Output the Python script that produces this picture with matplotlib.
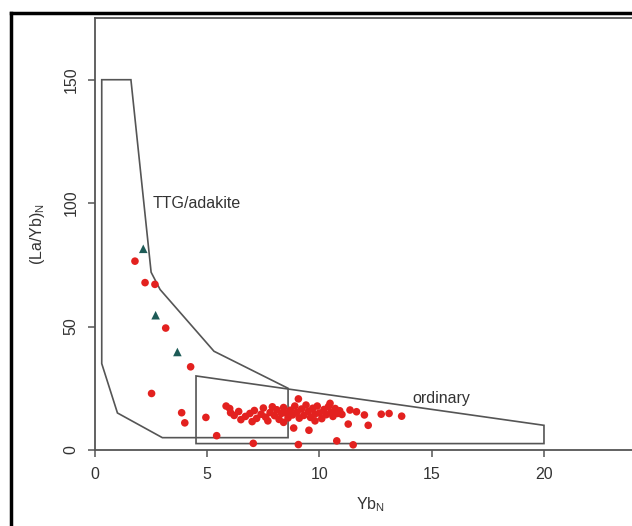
import matplotlib
matplotlib.use("Agg")
import matplotlib.pyplot as plt
from matplotlib.lines import Line2D
from matplotlib.patches import Polygon

plt.rcParams["font.family"] = ["Liberation Sans", "DejaVu Sans"]

_RED = "#e3211f"
_TEAL = "#1d5b57"
_EDGE = "#555555"
_TEXT = "#333333"

# field boundaries (YbN, (La/Yb)N)
ttg_x = [0.3, 1.6, 2.5, 2.9, 5.3, 8.6, 8.6, 3.0, 1.0, 0.3]
ttg_y = [150, 150, 72, 65, 40, 25, 5, 5, 15, 35]
ordinary_x = [4.5, 20.0, 20.0, 4.5]
ordinary_y = [30, 10, 2.6, 2.6]

# samples
red_x = [1.78, 2.23, 2.67, 3.15, 4.26, 2.52, 3.86, 4.0, 4.94, 5.42,
         7.05, 9.06, 10.77, 11.5, 8.85, 9.53, 11.28, 12.17, 9.06, 10.47,
         11.36, 11.65, 12.0, 12.75, 13.1, 13.66, 5.84, 6.04,
         6.4, 6.5, 6.7, 6.9, 7.1, 7.2, 7.4, 7.5, 7.6, 7.7,
         7.8, 7.9, 8.0, 8.1, 8.2, 8.3, 8.4, 8.5, 8.6, 8.7,
         8.8, 8.9, 9.0, 9.1, 9.2, 9.3, 9.4, 9.5, 9.6, 9.7,
         9.8, 9.9, 10.0, 10.1, 10.2, 10.3, 10.4, 10.5, 10.6, 10.7,
         10.8, 10.9, 11.0, 7.0, 8.4, 9.8, 6.2, 6.0]
red_y = [76.5, 67.8, 67.1, 49.4, 33.7, 22.9, 15.1, 11.0, 13.2, 5.8,
         2.7, 2.2, 3.7, 2.1, 8.9, 8.0, 10.5, 10.0, 20.7, 18.9,
         16.2, 15.5, 14.2, 14.5, 14.8, 13.7, 17.8, 15.1,
         15.6, 12.3, 13.6, 14.8, 16.0, 12.8, 14.5, 17.0, 13.3, 11.8,
         15.2, 17.5, 13.9, 16.3, 12.4, 14.8, 17.2, 15.0, 13.0, 16.1,
         14.2, 17.8, 15.3, 12.9, 16.6, 14.0, 18.2, 15.6, 13.2, 16.9,
         14.6, 17.8, 15.0, 12.7, 16.4, 14.3, 17.6, 15.2, 13.6, 16.8,
         14.8, 15.9, 14.4, 11.5, 11.2, 11.8, 14.0, 16.8]
tri_x = [2.15, 2.70, 3.67]
tri_y = [81.5, 54.6, 39.7]

x_ticks = [0, 5, 10, 15, 20]
y_ticks = [0, 50, 100, 150]

W, H = 632, 526
fig = plt.figure(figsize=(W / 100, H / 100), dpi=100)

# outer frame, only the left and top edges fall inside the canvas
fig.add_artist(Line2D([11 / W, 11 / W], [0, 1 - 13 / H], color="black", lw=2.5))
fig.add_artist(Line2D([11 / W, 1], [1 - 13 / H, 1 - 13 / H], color="black", lw=2.5))

ax = fig.add_axes([95 / W, 1 - 450 / H, 550 / W, 432 / H])
ax.set_xlim(0, 24.5)
ax.set_ylim(0, 175)

for xs, ys in [(ttg_x, ttg_y), (ordinary_x, ordinary_y)]:
    ax.add_patch(Polygon(list(zip(xs, ys)), closed=True, fill=False,
                         edgecolor=_EDGE, lw=1.2))

ax.scatter(red_x, red_y, s=30, c=_RED, edgecolors="none", zorder=3)
ax.scatter(tri_x, tri_y, s=38, marker="^", c=_TEAL, edgecolors="none", zorder=3)

ax.text(2.55, 100, "TTG/adakite", fontsize=11.5, color=_TEXT, va="center")
ax.text(14.15, 21, "ordinary", fontsize=11.5, color=_TEXT, va="center")

for side in ["left", "top", "bottom", "right"]:
    ax.spines[side].set_color(_EDGE)
    ax.spines[side].set_linewidth(1.3)

ax.set_xticks(x_ticks)
ax.set_yticks(y_ticks)
ax.tick_params(direction="out", length=5, width=1.1, color=_EDGE,
               labelsize=11.5, labelcolor=_TEXT, pad=7)
for lab in ax.get_yticklabels():
    lab.set_rotation(90)
    lab.set_va("center")

ax.set_xlabel(r"Yb$_\mathregular{N}$", fontsize=11.5, color=_TEXT, labelpad=10)
ax.set_ylabel(r"(La/Yb)$_\mathregular{N}$", fontsize=11.5, color=_TEXT, labelpad=12)

fig.savefig("out.png", dpi=100)
